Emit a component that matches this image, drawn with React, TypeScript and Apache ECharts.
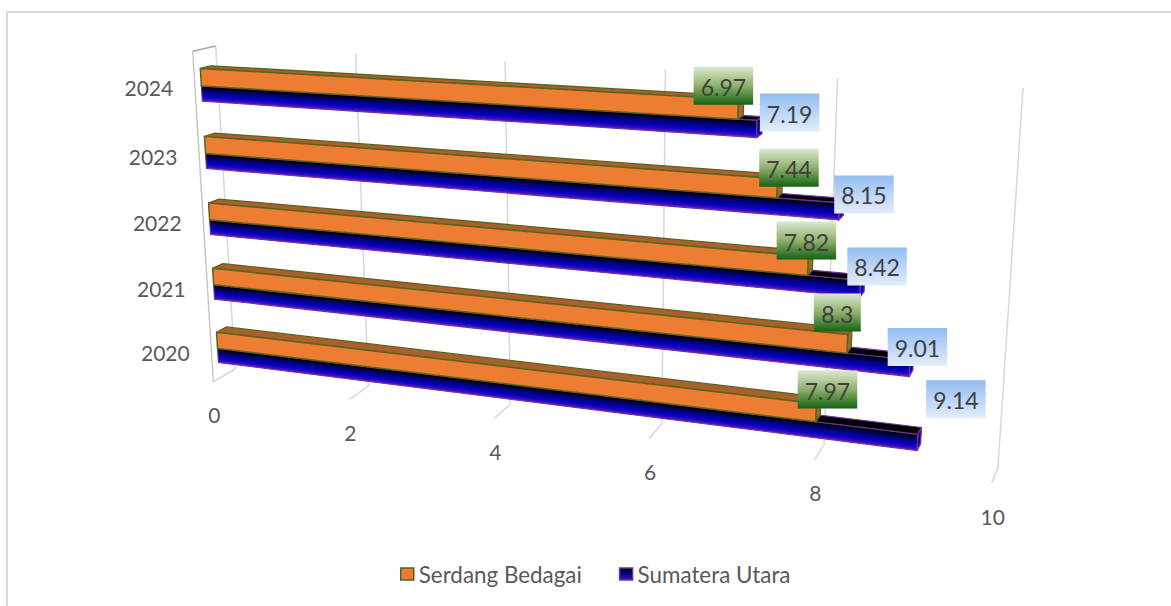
import React, { useEffect, useRef } from "react";
import * as echarts from "echarts";

const categories = ["2020", "2021", "2022", "2023", "2024"];
const serdangBedagai = [7.97, 8.3, 7.82, 7.44, 6.97];
const sumateraUtara = [9.14, 9.01, 8.42, 8.15, 7.19];
const valueTicks = [0, 2, 4, 6, 8, 10];

const FONT = "Lato, 'Noto Sans', sans-serif";
const GRID_W = 1000;
const GRID_H = 500;

type Pt = [number, number];
function squareToQuad(q: Pt[]) {
  const [[x0, y0], [x1, y1], [x2, y2], [x3, y3]] = q;
  const dx1 = x1 - x2, dx2 = x3 - x2, sx = x0 - x1 + x2 - x3;
  const dy1 = y1 - y2, dy2 = y3 - y2, sy = y0 - y1 + y2 - y3;
  const den = dx1 * dy2 - dx2 * dy1;
  const g = (sx * dy2 - dx2 * sy) / den;
  const h = (dx1 * sy - sx * dy1) / den;
  const a = x1 - x0 + g * x1, b = x3 - x0 + h * x3, c = x0;
  const d = y1 - y0 + g * y1, e = y3 - y0 + h * y3, f = y0;
  return (u: number, v: number): Pt => {
    const w = g * u + h * v + 1;
    return [(a * u + b * v + c) / w, (d * u + e * v + f) / w];
  };
}
// Perspective planes of the 3-D box: corners are top-left, top-right, bottom-right, bottom-left.
const frontPlane = squareToQuad([[192.7, 51.3], [1016, 96], [991.7, 483], [213.3, 381.7]]);
const backPlane = squareToQuad([[215.7, 46], [1023, 88], [998, 467], [235, 369]]);
function project(u: number, r: number, z: number): Pt {
  const a = frontPlane(u, r), b = backPlane(u, r);
  return [a[0] + (b[0] - a[0]) * z, a[1] + (b[1] - a[1]) * z];
}

const Z_FRONT = 0.28;
const Z_BACK = 0.74;
const BAND_START = 0.27;
const ORANGE_BAND = 0.255;
const BLUE_BAND = 0.225;
const BLUE_SEGMENTS = 12;
const LABEL_ANCHOR_ORANGE = 0.3;
const LABEL_ANCHOR_BLUE = 0.555;

const blueStops = [
  { offset: 0, color: "#000000" },
  { offset: 0.12, color: "#00001e" },
  { offset: 0.42, color: "#00008c" },
  { offset: 0.72, color: "#0a00c4" },
  { offset: 0.9, color: "#3a10c0" },
  { offset: 1, color: "#7028aa" },
];

function toUR(api: any, value: number, idx: number) {
  const p = api.coord([value, idx]);
  const band = api.size([0, 1])[1];
  return { u: p[0] / GRID_W, rTop: (p[1] - band / 2) / GRID_H, bandR: band / GRID_H };
}
function poly(points: Pt[], fill: any, stroke: string | null, lineWidth: number) {
  return { type: "polygon", shape: { points }, style: { fill, stroke, lineWidth, lineJoin: "round" } };
}
function boxFaces(u: number, r0: number, r1: number) {
  return {
    top: [project(0, r0, Z_FRONT), project(u, r0, Z_FRONT), project(u, r0, Z_BACK), project(0, r0, Z_BACK)] as Pt[],
    end: [project(u, r0, Z_FRONT), project(u, r0, Z_BACK), project(u, r1, Z_BACK), project(u, r1, Z_FRONT)] as Pt[],
    front: [project(0, r0, Z_FRONT), project(u, r0, Z_FRONT), project(u, r1, Z_FRONT), project(0, r1, Z_FRONT)] as Pt[],
  };
}
// A gradient across a quad's long direction, in page coordinates, so that it follows the slanted bar.
function acrossGradient(tl: Pt, tr: Pt, br: Pt, bl: Pt) {
  const dx = (tr[0] - tl[0] + br[0] - bl[0]) / 2;
  const dy = (tr[1] - tl[1] + br[1] - bl[1]) / 2;
  const len = Math.hypot(dx, dy) || 1;
  const ux = dx / len, uy = dy / len;
  const a: Pt = [(tl[0] + tr[0]) / 2, (tl[1] + tr[1]) / 2];
  const b: Pt = [(bl[0] + br[0]) / 2, (bl[1] + br[1]) / 2];
  const vx = b[0] - a[0], vy = b[1] - a[1];
  const along = vx * ux + vy * uy;
  return new echarts.graphic.LinearGradient(a[0], a[1], a[0] + vx - along * ux, a[1] + vy - along * uy, blueStops, true);
}

function renderOrange(_: any, api: any) {
  const idx = api.value(1);
  const { u, rTop, bandR } = toUR(api, api.value(0), idx);
  const r0 = rTop + BAND_START * bandR;
  const r1 = r0 + ORANGE_BAND * bandR;
  const f = boxFaces(u, r0, r1);
  const olive = "#5a6420";
  return {
    type: "group",
    children: [
      poly(f.top, "#a9602a", olive, 1.3),
      poly(f.end, "#a0682c", olive, 1.3),
      poly(f.front, "#ed7d31", olive, 1.5),
    ],
  };
}
function renderBlue(_: any, api: any) {
  const idx = api.value(1);
  const { u, rTop, bandR } = toUR(api, api.value(0), idx);
  const r0 = rTop + (BAND_START + ORANGE_BAND) * bandR;
  const r1 = r0 + BLUE_BAND * bandR;
  const f = boxFaces(u, r0, r1);
  const purple = "#7030a0";
  const children: any[] = [poly(f.top, "#000000", purple, 1.2)];
  const step = u / BLUE_SEGMENTS;
  for (let i = 0; i < BLUE_SEGMENTS; i++) {
    const a = step * i;
    const b = Math.min(u, step * (i + 1) + step * 0.04);
    const tl = project(a, r0, Z_FRONT), tr = project(b, r0, Z_FRONT);
    const br = project(b, r1, Z_FRONT), bl = project(a, r1, Z_FRONT);
    children.push(poly([tl, tr, br, bl], acrossGradient(tl, tr, br, bl), null, 0));
  }
  const cap = new echarts.graphic.LinearGradient(0, 0, 0, 1, blueStops);
  children.push(poly(f.end, cap, purple, 1.3));
  children.push({ type: "polygon", shape: { points: f.front }, style: { fill: "none", stroke: purple, lineWidth: 1.1 } });
  return { type: "group", children };
}

function renderWalls(_: any, api: any) {
  const value = api.value(0);
  const u = api.coord([value, 0])[0] / GRID_W;
  const grey = "#d9d9d9";
  const line = (a: Pt, b: Pt, stroke = grey, lineWidth = 1.6) => ({
    type: "line",
    shape: { x1: a[0], y1: a[1], x2: b[0], y2: b[1] },
    style: { stroke, lineWidth },
  });
  const backTop = project(u, 0, 1), backBot = project(u, 1, 1), frontBot = project(u, 1, 0);
  const children: any[] = [line(backTop, backBot), line(backBot, frontBot)];
  if (value === 0) {
    const frontTop = project(0, 0, 0);
    children.push(line(backTop, frontTop, "#a6a6a6", 1.4), line(frontTop, frontBot, "#c4c4c4", 1.4));
  }
  children.push({
    type: "text",
    style: {
      text: String(value), x: frontBot[0] + 1, y: frontBot[1] + 33,
      font: `21px ${FONT}`, fill: "#595959", align: "center", verticalAlign: "middle",
    },
  });
  return { type: "group", children };
}
function renderCategoryLabels(_: any, api: any) {
  const idx = api.value(1);
  const p = api.coord([0, idx]);
  const at = project(0, p[1] / GRID_H, 0);
  return {
    type: "text",
    style: {
      text: categories[idx], x: at[0] - 46, y: at[1] + 2,
      font: `21px ${FONT}`, fill: "#595959", align: "center", verticalAlign: "middle",
    },
  };
}

// pixel nudges of each data label from its bar's end, in category order
const orangeLabelNudge: Pt[] = [[11, -16], [-10.5, -24], [-2, -18], [11.5, -13], [-15, -16]];
const blueLabelNudge: Pt[] = [[38, -37], [7.5, -15], [16.5, -16], [24.5, -10.5], [32.5, -10]];

const greenFill = new echarts.graphic.LinearGradient(0, 0, 0, 1, [
  { offset: 0, color: "#dce8cf" }, { offset: 0.5, color: "#8fb06c" }, { offset: 1, color: "#136312" },
]);
const blueFill = new echarts.graphic.LinearGradient(0, 0, 0, 1, [
  { offset: 0, color: "#93bdf2" }, { offset: 1, color: "#e3edfb" },
]);
const legendBlue = new echarts.graphic.LinearGradient(0, 0, 0, 1, [
  { offset: 0, color: "#000000" }, { offset: 0.5, color: "#00008c" }, { offset: 1, color: "#3a18b4" },
]);

function makeLabelRender(kind: "orange" | "blue") {
  return (_: any, api: any) => {
    const idx = api.value(1);
    const raw = api.value(0);
    const { u, rTop, bandR } = toUR(api, raw, idx);
    const start = kind === "orange" ? LABEL_ANCHOR_ORANGE : LABEL_ANCHOR_BLUE;
    const at = project(u, rTop + start * bandR, 0.3);
    const nudge = (kind === "orange" ? orangeLabelNudge : blueLabelNudge)[idx];
    const cx = at[0] + nudge[0], cy = at[1] + nudge[1];
    const text = String(raw);
    const w = text.length >= 4 ? 59.5 : 47;
    const h = 38;
    return {
      type: "group",
      children: [
        {
          type: "rect",
          shape: { x: cx - w / 2, y: cy - h / 2, width: w, height: h },
          style: { fill: kind === "orange" ? greenFill : blueFill },
        },
        {
          type: "text",
          style: {
            text, x: cx, y: cy + 1, font: `23px ${FONT}`, fill: "#404040",
            align: "center", verticalAlign: "middle",
          },
        },
      ],
    };
  };
}

const toPairs = (values: number[]) => values.map((v, i) => [v, i]);

export default function App() {
  const ref = useRef<HTMLDivElement>(null);
  useEffect(() => {
    const chart = echarts.init(ref.current!, undefined, { renderer: "svg" });
    const encode = { x: 0, y: 1 };
    chart.setOption({
      animation: false,
      backgroundColor: "#ffffff",
      grid: { left: 0, top: 0, width: GRID_W, height: GRID_H, containLabel: false, show: false },
      xAxis: { type: "value", min: 0, max: 10, interval: 2, show: false },
      yAxis: { type: "category", data: categories, show: false },
      legend: {
        left: 400, top: 563, padding: 0, itemWidth: 13, itemHeight: 12, itemGap: 37, icon: "rect",
        textStyle: { fontFamily: FONT, fontSize: 22.4, color: "#595959" },
        data: [
          { name: "Serdang Bedagai", itemStyle: { color: "#ed7d31", borderColor: "#4f6228", borderWidth: 1.5 } },
          { name: "Sumatera Utara", itemStyle: { color: legendBlue, borderColor: "#7030a0", borderWidth: 1.5 } },
        ],
      },
      graphic: [
        { type: "line", shape: { x1: 6, y1: 12, x2: 1171, y2: 12 }, style: { stroke: "#d9d9d9", lineWidth: 2 }, silent: true },
        { type: "line", shape: { x1: 7, y1: 12, x2: 7, y2: 606 }, style: { stroke: "#d9d9d9", lineWidth: 2 }, silent: true },
      ],
      series: [
        { type: "custom", name: "walls", z: 1, encode, data: valueTicks.map((t) => [t, 0]), renderItem: renderWalls, silent: true },
        { type: "custom", name: "years", z: 1, encode, data: categories.map((_, i) => [0, i]), renderItem: renderCategoryLabels, silent: true },
        { type: "custom", name: "Sumatera Utara", z: 2, encode, data: toPairs(sumateraUtara), renderItem: renderBlue, itemStyle: { color: "#00008c" } },
        { type: "custom", name: "Serdang Bedagai", z: 3, encode, data: toPairs(serdangBedagai), renderItem: renderOrange, itemStyle: { color: "#ed7d31" } },
        { type: "custom", name: "labels-blue", z: 4, encode, data: toPairs(sumateraUtara), renderItem: makeLabelRender("blue") },
        { type: "custom", name: "labels-green", z: 5, encode, data: toPairs(serdangBedagai), renderItem: makeLabelRender("orange") },
      ],
    });
    return () => chart.dispose();
  }, []);
  return <div ref={ref} style={{ position: "fixed", left: 0, top: 0, width: 1171, height: 606 }} />;
}
